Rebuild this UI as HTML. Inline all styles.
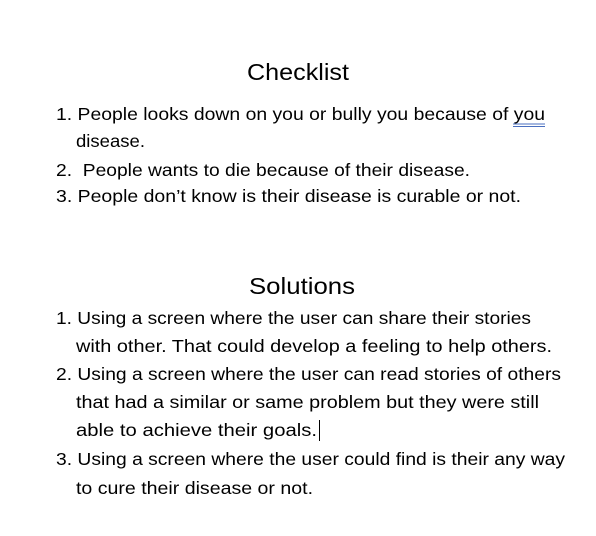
<!DOCTYPE html>
<html><head><meta charset="utf-8"><style>
html,body{margin:0;padding:0;background:#fff;width:596px;height:536px;overflow:hidden}
svg text{font-family:"Liberation Sans",sans-serif;fill:#000}
</style></head><body>
<svg width="596" height="536" viewBox="0 0 596 536" xmlns="http://www.w3.org/2000/svg">
<text x="247" y="80" font-size="23" textLength="102" lengthAdjust="spacingAndGlyphs">Checklist</text>
<g font-size="17.5">
<text x="56" y="120" textLength="489" lengthAdjust="spacingAndGlyphs">1. People looks down on you or bully you because of you</text>
<text x="76" y="147" textLength="69" lengthAdjust="spacingAndGlyphs">disease.</text>
<text x="56" y="176" textLength="414" lengthAdjust="spacingAndGlyphs">2.&#160; People wants to die because of their disease.</text>
<text x="56" y="202" textLength="465" lengthAdjust="spacingAndGlyphs">3. People don’t know is their disease is curable or not.</text>
</g>
<line x1="513" y1="124" x2="545" y2="124" stroke="#4a6fc0" stroke-width="1"/>
<line x1="513" y1="126.5" x2="545" y2="126.5" stroke="#4a6fc0" stroke-width="1"/>
<text x="249" y="294" font-size="23" textLength="106" lengthAdjust="spacingAndGlyphs">Solutions</text>
<g font-size="17.5">
<text x="56" y="324" textLength="475" lengthAdjust="spacingAndGlyphs">1. Using a screen where the user can share their stories</text>
<text x="76" y="352" textLength="476" lengthAdjust="spacingAndGlyphs">with other. That could develop a feeling to help others.</text>
<text x="56" y="380" textLength="505" lengthAdjust="spacingAndGlyphs">2. Using a screen where the user can read stories of others</text>
<text x="76" y="408" textLength="463" lengthAdjust="spacingAndGlyphs">that had a similar or same problem but they were still</text>
<text x="76" y="436" textLength="241" lengthAdjust="spacingAndGlyphs">able to achieve their goals.</text>
<text x="56" y="465" textLength="509" lengthAdjust="spacingAndGlyphs">3. Using a screen where the user could find is their any way</text>
<text x="76" y="494" textLength="237" lengthAdjust="spacingAndGlyphs">to cure their disease or not.</text>
</g>
<line x1="319.5" y1="420" x2="319.5" y2="441" stroke="#000" stroke-width="1"/>
</svg>
</body></html>
